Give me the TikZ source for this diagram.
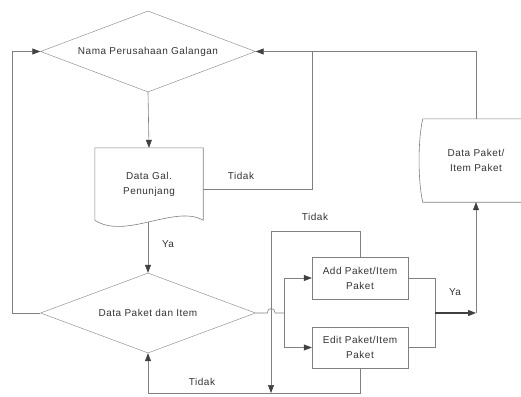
\documentclass[tikz,border=0pt]{standalone}
\usepackage{fontspec}
\setmainfont{Liberation Sans}[LetterSpace=5]
\usepackage{xcolor}
\usepackage{tikz}
\usetikzlibrary{arrows, arrows.meta, shapes.geometric}
\definecolor{linegray}{gray}{0.5}
\definecolor{textgray}{gray}{0.2}
\definecolor{tipgray}{gray}{0.25}

\begin{document}
\begin{tikzpicture}[x=1pt, y=-1pt,
	every node/.style={text=textgray, font=\fontsize{10}{15}\selectfont, align=center},
	decision/.style={diamond, draw=linegray, aspect=2.65, minimum width=215pt, minimum height=81pt, inner sep=0pt},
	procbox/.style={rectangle, draw=linegray, minimum width=96pt, minimum height=42pt, inner sep=0pt},
	plain/.style={rectangle, draw=none, inner sep=0pt},
	conn/.style={draw=linegray, line width=0.6pt},
	arr/.style={conn, -{Triangle[length=8pt, width=6pt, color=tipgray]}},
	]
				\useasboundingbox (0,0) rectangle (521,396);
				\node[decision] (nama)  at (148,51.5){Nama Perusahaan Galangan};%
				\node[plain, minimum width=108pt, minimum height=72pt] (gal) at (149,184){Data Gal.\\Penunjang};%
				\node[decision, minimum height=80pt] (data) at (148,313){Data Paket dan Item};%
				\node[procbox] (add)   at (360,278){Add Paket/Item\\Paket};%
				\node[procbox, minimum height=41pt] (edit) at (360,347.5){Edit Paket/Item\\Paket};%
				\node[plain, minimum width=106pt, minimum height=83pt] (store) at (476,160.5){Data Paket/\\Item Paket};%
				\coordinate (galbot) at (148,222);%
				\coordinate (jtop)   at (312,52);%
				\coordinate (split)  at (284,313);%
				\coordinate (loopTL) at (271,231);%
				\coordinate (loopBL) at (271,393);%
				\coordinate (merge)  at (435,313);%
				\coordinate (corner) at (476,313);%
				% shapes without a library shape
				\draw[conn] (gal.south west) -- (gal.north west) -- (gal.north east) -- (gal.south east) .. controls +(-28,-16) and +(30,20) .. (gal.south west);
				\draw[conn] (store.north west) -- (store.north east) .. controls +(-10,21) and +(-10,-21) .. (store.south east) -- (store.south west) .. controls +(-5,-21) and +(-5,21) .. (store.north west);
				% connectors
				\draw[arr] (nama.south) -- (gal.north);
				\draw[arr] (galbot) -- (data.north);
				\draw[conn] ([yshift=-5pt]gal.east) -| (jtop);
				\draw[arr] (store.north) |- (nama.east);
				\draw[arr] (data.west) -- ++(-28,0) |- (nama.west);
				\draw[conn] (data.east) -- ++(11.5,0) .. controls +(0,-6) and +(0,-6) .. ++(8,0) -- (split);
				\draw[arr] (split) |- (add.west);
				\draw[arr] (split) |- (edit.west);
				\draw[arr] (add.north) |- (loopTL) -- (loopBL);
				\draw[arr] (edit.south) -- ++(0,25) -| (data.south);
				\draw[conn] (add.east) -| (merge);
				\draw[conn] (edit.east) -| (merge);
				\draw[arr, draw=tipgray, line width=1.2pt] (merge) -- (corner);
				\draw[arr] (corner) -- (store.south);
				% labels
				\node (tidak1) at (241,176){Tidak};%
				\node (ya1)    at (168,244){Ya};%
				\node (tidak2) at (315,217){Tidak};%
				\node (tidak3) at (202,382){Tidak};%
				\node (ya2)    at (455,292){Ya};%
			\end{tikzpicture}
\end{document}
